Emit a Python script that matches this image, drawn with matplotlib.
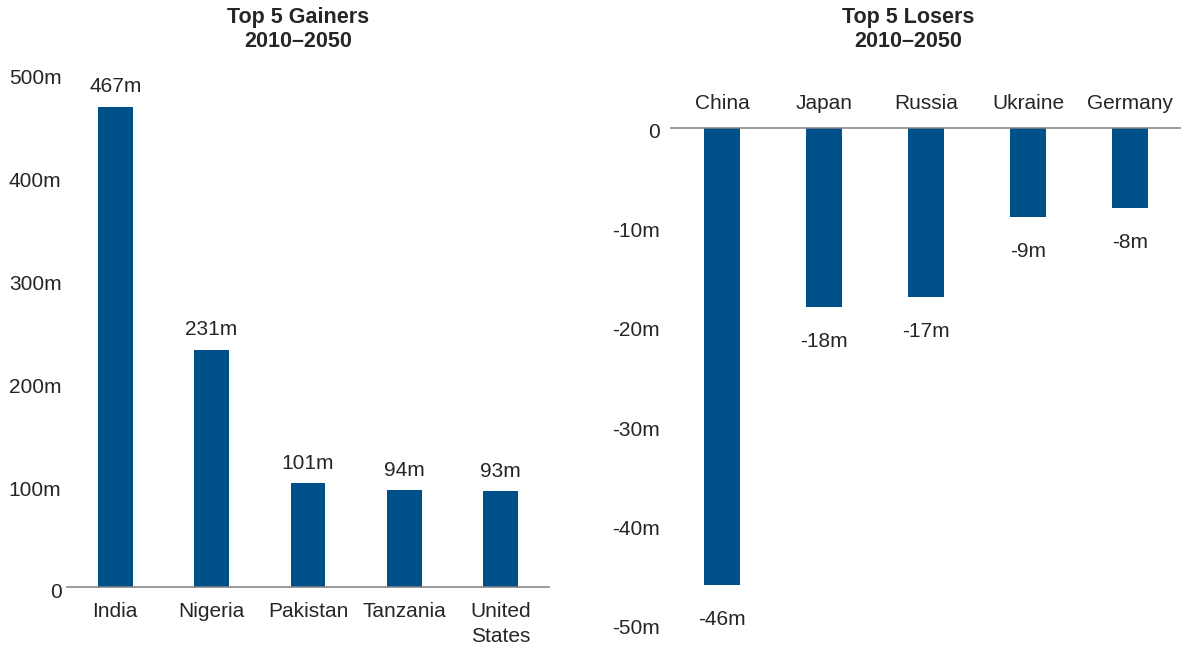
import matplotlib
matplotlib.use("Agg")
import matplotlib.pyplot as plt
from matplotlib.transforms import ScaledTranslation

# Population change 2010-2050, millions
gainers = ["India", "Nigeria", "Pakistan", "Tanzania", "United\nStates"]
gainer_values = [467, 231, 101, 94, 93]

losers = ["China", "Japan", "Russia", "Ukraine", "Germany"]
loser_values = [-46, -18, -17, -9, -8]

gain_ticks = [0, 100, 200, 300, 400, 500]
gain_tick_labels = ["0", "100m", "200m", "300m", "400m", "500m"]
loss_ticks = [0, -10, -20, -30, -40, -50]
loss_tick_labels = ["0", "-10m", "-20m", "-30m", "-40m", "-50m"]

BAR = "#00508a"
TEXT = "#262626"
AXIS = "#7f7f7f"
FS = 15
TITLE_FS = 15.5

plt.rcParams["font.family"] = ["Liberation Sans", "DejaVu Sans"]

fig = plt.figure(figsize=(11.81, 6.48), dpi=100)
W, H = 1181, 648

def box(x0, y_top, x1, y_bot):
    return [x0 / W, 1 - y_bot / H, (x1 - x0) / W, (y_bot - y_top) / H]

def nudge_down(labels, px):
    shift = ScaledTranslation(0, -px / 100, fig.dpi_scale_trans)
    for lbl in labels:
        lbl.set_transform(lbl.get_transform() + shift)

# Gainers panel
ax1 = fig.add_axes(box(67, 73, 549, 587))
x = range(len(gainers))
ax1.bar(x, gainer_values, width=0.36, color=BAR, zorder=2)
ax1.set_xlim(-0.5, 4.5)
ax1.set_ylim(0, 500)
ax1.set_yticks(gain_ticks)
ax1.set_yticklabels(gain_tick_labels)
ax1.set_xticks(list(x))
ax1.set_xticklabels(gainers, linespacing=1.4)
for s in ["left", "right", "top"]:
    ax1.spines[s].set_visible(False)
ax1.spines["bottom"].set_color(AXIS)
ax1.spines["bottom"].set_linewidth(1.1)
ax1.tick_params(axis="both", length=0, labelsize=FS, colors=TEXT)
ax1.tick_params(axis="x", pad=11)
ax1.tick_params(axis="y", pad=4)
nudge_down(ax1.get_yticklabels(), 4)
for xi, v in zip(x, gainer_values):
    ax1.annotate(f"{v}m", (xi, v), xytext=(0, 10.5), textcoords="offset points",
                 ha="center", va="baseline", fontsize=FS, color=TEXT,
                 annotation_clip=False)

# Losers panel
ax2 = fig.add_axes(box(671, 128, 1181, 625))
x2 = range(len(losers))
ax2.bar(x2, loser_values, width=0.345, color=BAR, zorder=2)
ax2.set_xlim(-0.5, 4.5)
ax2.set_ylim(-50, 0)
ax2.set_yticks(loss_ticks)
ax2.set_yticklabels(loss_tick_labels)
ax2.xaxis.tick_top()
ax2.set_xticks(list(x2))
ax2.set_xticklabels(losers)
for s in ["left", "right", "bottom"]:
    ax2.spines[s].set_visible(False)
ax2.spines["top"].set_color(AXIS)
ax2.spines["top"].set_linewidth(1.1)
ax2.tick_params(axis="both", length=0, labelsize=FS, colors=TEXT)
ax2.tick_params(axis="x", pad=11)
ax2.tick_params(axis="y", pad=8)
nudge_down(ax2.get_yticklabels(), 2)
for xi, v in zip(x2, loser_values):
    ax2.annotate(f"{v}m", (xi, v), xytext=(0, -18), textcoords="offset points",
                 ha="center", va="top", fontsize=FS, color=TEXT,
                 annotation_clip=False)

fig.text(298 / W, 1 - 7 / H, "Top 5 Gainers\n2010\u20132050", ha="center", va="top",
         fontsize=TITLE_FS, fontweight="bold", color=TEXT, linespacing=1.2)
fig.text(908 / W, 1 - 7 / H, "Top 5 Losers\n2010\u20132050", ha="center", va="top",
         fontsize=TITLE_FS, fontweight="bold", color=TEXT, linespacing=1.2)

fig.savefig("out.png", dpi=100)
